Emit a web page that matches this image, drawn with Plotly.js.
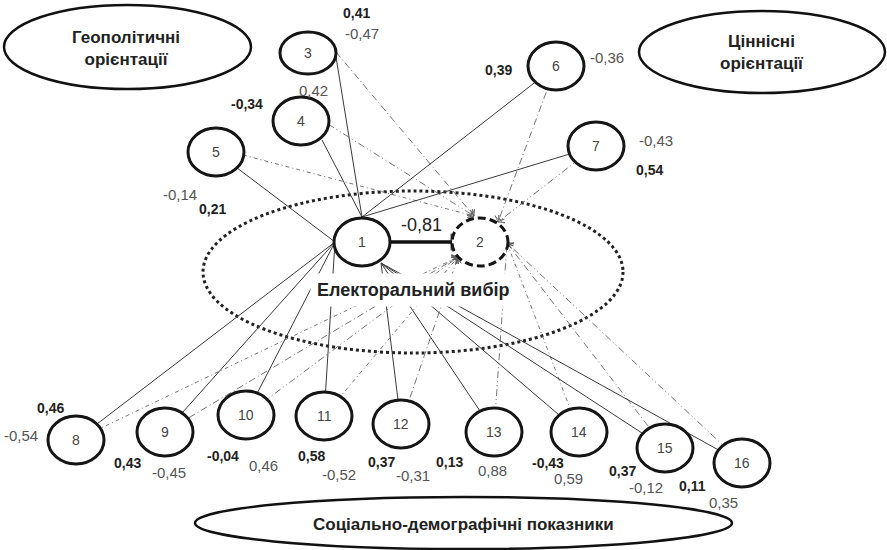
<!DOCTYPE html>
<html><head><meta charset="utf-8">
<script src="https://cdn.plot.ly/plotly-3.0.1.min.js"></script>
<style>html,body{margin:0;padding:0;background:#fff}#chart{width:887px;height:550px}</style>
</head><body><div id="chart"></div>
<script>
// ---------- DATA ----------
const nodeIds = ['1','2','3','4','5','6','7','8','9','10','11','12','13','14','15','16'];
const factorIds = ['3','4','5','6','7','8','9','10','11','12','13','14','15','16'];
// coefficients of factor -> node 1 (bold) and factor -> node 2 (regular)
const coefToNode1 = [0.41,-0.34,0.21,0.39,0.54,0.46,0.43,-0.04,0.58,0.37,0.13,-0.43,0.37,0.11];
const coefToNode2 = [-0.47,0.42,-0.14,-0.36,-0.43,-0.54,-0.45,0.46,-0.52,-0.31,0.88,0.59,-0.12,0.35];
const coefNode1Node2 = -0.81;
const groupGeo = 'Геополітичні<br>орієнтації';
const groupValues = 'Ціннісні<br>орієнтації';
const groupSocial = 'Соціально-демографічні показники';
const groupChoice = 'Електоральний вибір';

// ---------- LAYOUT CONFIG (positions / styles) ----------
const POS = {'1':[362,242],'2':[480,242],'3':[308,53],'4':[301,121],'5':[216,152],'6':[556,66],'7':[596,146],
  '8':[76,440],'9':[165,432],'10':[246,415],'11':[324,416],'12':[401,424],'13':[494,432],'14':[579,432],
  '15':[665,448],'16':[742,463]};
const RAD = {'3':[28,21]};
// edge start points on some source circles (otherwise the centre, hidden under the node)
const SRC1 = {'3':[336,57], '4':[322,140]};
const SRC2 = {'3':[336,52], '4':[328,124], '5':[243,155]};
const PORT1 = {top:[362,217], left:[335,242], br:[381,263]};
const PORT2 = {top:[474,216], tr:[498,222], bl:[458,257], right:[507,243]};
const TO1 = {'3':'top','4':'top','5':'left','6':'top','7':'top','8':'left','9':'left','10':'left','11':'left',
  '12':'br','13':'br','14':'br','15':'br','16':'br'};
const TO2 = {'3':'top','4':'top','5':'top','6':'tr','7':'tr','8':'bl','9':'bl','10':'bl','11':'bl','12':'bl',
  '13':'right','14':'right','15':'right','16':'right'};
const DASHES = ['7px,3px,1px,3px','7px,3px,1px,3px,1px,3px','4px,3px,1px,3px'];
const BOLD_POS = {'3':[356,13],'4':[247,104],'5':[212,209],'6':[498,70],'7':[649,170],'8':[50,408],'9':[127,463],
  '10':[223,456],'11':[311,456],'12':[381,462],'13':[449,462],'14':[548,463],'15':[622,471],'16':[692,486]};
const REG_POS = {'3':[362,33],'4':[313,90],'5':[180,194],'6':[607,57],'7':[656,140],'8':[21,435],'9':[169,472],
  '10':[263,465],'11':[339,474],'12':[413,475],'13':[492,470],'14':[568,478],'15':[646,487],'16':[723,502]};
const FONT = '"Liberation Sans", Arial, sans-serif';
const fmt = v => v.toFixed(2).replace('.', ',');

const traces = [];
const shapes = [];
const annotations = [];

// dotted "electoral choice" ellipse
shapes.push({type:'circle', layer:'below', xref:'x', yref:'y', x0:203, x1:623, y0:191, y1:353,
  line:{color:'#222', width:3, dash:'dot'}});
// group ellipses
shapes.push({type:'circle', xref:'x', yref:'y', x0:4, x1:251, y0:5, y1:89, line:{color:'#111', width:2.5}});
shapes.push({type:'circle', xref:'x', yref:'y', x0:639, x1:885, y0:11, y1:93, line:{color:'#111', width:2.5}});
shapes.push({type:'circle', xref:'x', yref:'y', x0:195, x1:732, y0:497, y1:549, line:{color:'#111', width:2.5}});

// edges
factorIds.forEach((id, i) => {
  const s1 = SRC1[id] || POS[id];
  const p1 = PORT1[TO1[id]];
  traces.push({type:'scatter', mode:'lines', x:[s1[0], p1[0]], y:[s1[1], p1[1]],
    line:{color:'#3a3a3a', width:1}, hoverinfo:'skip', showlegend:false});
  const s2 = SRC2[id] || POS[id];
  const p2 = PORT2[TO2[id]];
  traces.push({type:'scatter', mode:'lines+markers', x:[s2[0], p2[0]], y:[s2[1], p2[1]],
    line:{color:'#666', width:0.9, dash:DASHES[i % DASHES.length]},
    marker:{symbol:['circle','arrow-wide-open'], size:[0,7], angleref:'previous', color:'#555',
      line:{color:'#555', width:1}},
    hoverinfo:'skip', showlegend:false});
});
// thick 1-2 link
traces.push({type:'scatter', mode:'lines+markers', x:[POS['1'][0]+27, POS['2'][0]-28], y:[POS['1'][1], POS['2'][1]],
  line:{color:'#111', width:3.5}, marker:{symbol:['circle','line-ns'], size:[0,12], color:'#111', line:{color:'#111', width:3}},
  hoverinfo:'skip', showlegend:false});

// node circles
nodeIds.forEach(id => {
  const [cx, cy] = POS[id];
  const [rx, ry] = RAD[id] || [28, 24];
  shapes.push({type:'circle', layer:'above', xref:'x', yref:'y', x0:cx-rx, x1:cx+rx, y0:cy-ry, y1:cy+ry,
    fillcolor:'#fff', line:{color:'#151515', width:3, dash: id === '2' ? '8px,4px' : 'solid'}});
  annotations.push({x:cx, y:cy, xref:'x', yref:'y', text:id, showarrow:false,
    font:{family:FONT, size:14, color:'#444'}});
});

// coefficient labels
factorIds.forEach((id, i) => {
  const b = BOLD_POS[id], r = REG_POS[id];
  annotations.push({x:b[0], y:b[1], xref:'x', yref:'y', text:'<b>'+fmt(coefToNode1[i])+'</b>', showarrow:false,
    font:{family:FONT, size:14, color:'#222'}});
  annotations.push({x:r[0], y:r[1], xref:'x', yref:'y', text:fmt(coefToNode2[i]), showarrow:false,
    font:{family:FONT, size:15, color:'#555'}});
});
annotations.push({x:(POS['1'][0]+POS['2'][0])/2, y:225, xref:'x', yref:'y', text:fmt(coefNode1Node2), showarrow:false,
  font:{family:FONT, size:18, color:'#222'}});

// group labels
annotations.push({x:126, y:48, xref:'x', yref:'y', text:'<b>'+groupGeo+'</b>', showarrow:false,
  font:{family:FONT, size:17, color:'#222'}});
annotations.push({x:762, y:52, xref:'x', yref:'y', text:'<b>'+groupValues+'</b>', showarrow:false,
  font:{family:FONT, size:17, color:'#222'}});
annotations.push({x:463, y:524, xref:'x', yref:'y', text:'<b>'+groupSocial+'</b>', showarrow:false,
  font:{family:FONT, size:17, color:'#222'}});
annotations.push({x:413, y:290, xref:'x', yref:'y', text:'<b>'+groupChoice+'</b>', showarrow:false,
  bgcolor:'#fff', borderpad:6, font:{family:FONT, size:18, color:'#222'}});

const layout = {
  width:887, height:550, margin:{l:0, r:0, t:0, b:0},
  paper_bgcolor:'#fff', plot_bgcolor:'#fff',
  xaxis:{range:[0,887], visible:false, fixedrange:true},
  yaxis:{range:[550,0], visible:false, fixedrange:true},
  shapes, annotations, showlegend:false
};
Plotly.newPlot('chart', traces, layout, {staticPlot:true, displayModeBar:false});
</script></body></html>
